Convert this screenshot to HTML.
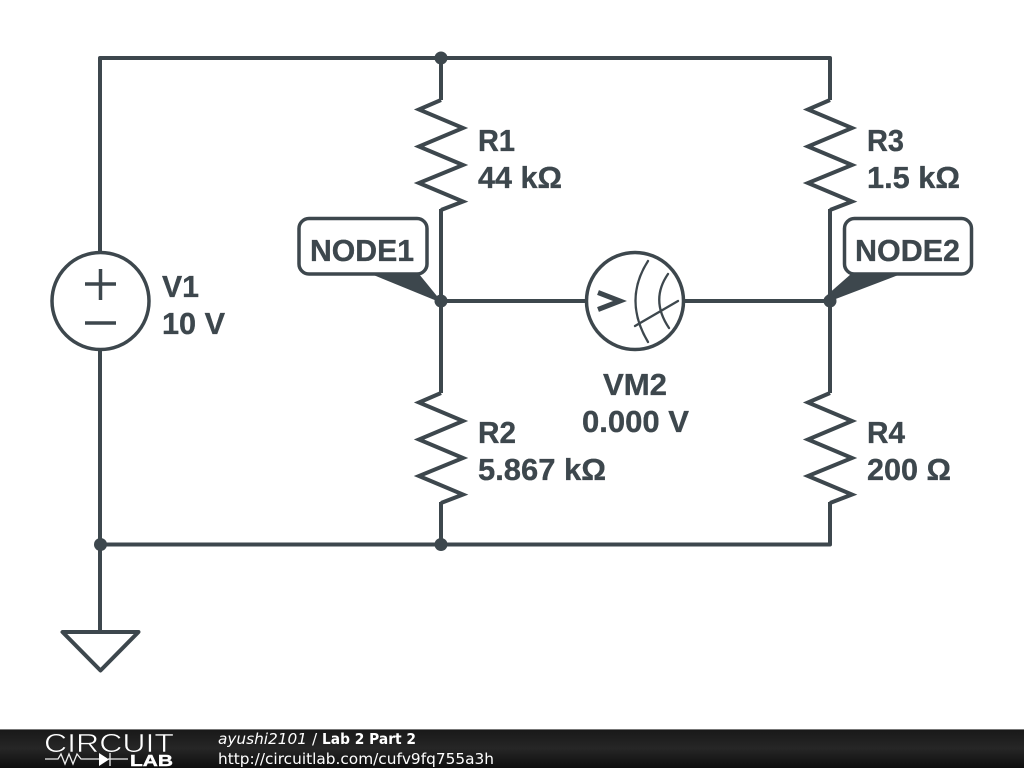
<!DOCTYPE html>
<html><head><meta charset="utf-8"><style>
html,body{margin:0;padding:0;background:#fff;width:1024px;height:768px;overflow:hidden}
svg{display:block}
.l{font:bold 30.5px "Liberation Sans",sans-serif;fill:#3d474d;stroke:#3d474d;stroke-width:.35}
.f{font-family:"DejaVu Sans",sans-serif;font-size:15.3px;fill:#fff}
</style></head><body>
<svg width="1024" height="768" viewBox="0 0 1024 768" xmlns="http://www.w3.org/2000/svg">
<defs><linearGradient id="g" x1="0" y1="0" x2="0" y2="1"><stop offset="0" stop-color="#181818"/><stop offset=".5" stop-color="#262626"/><stop offset="1" stop-color="#0e0e0e"/></linearGradient></defs>
<g fill="none" stroke="#3d474d" stroke-width="4" stroke-linejoin="round" stroke-linecap="butt">
<path d="M100 252V58H830V100M441 58V100"/>
<path d="M100 350V632M100 544.5H830V502M441 502V544.5"/>
<path d="M441 209V393M830 209V393"/>
<path d="M441 301H586M684 301H830"/>
<path d="M441 100L419 109.500L463 128L419 146.500L463 165L419 183L463 201.500L441 210" stroke-linejoin="miter"/>
<path d="M441 393L419 402.500L463 421L419 439.500L463 458L419 476L463 494.500L441 503" stroke-linejoin="miter"/>
<path d="M830 100L808 109.500L852 128L808 146.500L852 165L808 183L852 201.500L830 210" stroke-linejoin="miter"/>
<path d="M830 393L808 402.500L852 421L808 439.500L852 458L808 476L852 494.500L830 503" stroke-linejoin="miter"/>
<circle cx="100.500" cy="301" r="48.500" stroke-width="3.500"/>
<path d="M85 284H116M100.500 269V300M85 323H116" stroke-width="3.500"/>
<circle cx="635" cy="301" r="48.500" stroke-width="3.500"/>
<path d="M598 292.500L620 301L598 309.500" stroke-width="5" stroke-linejoin="miter" stroke-miterlimit="10"/>
<path d="M648 261Q623 300 648 342M668 274Q650 300 669 328M635 326L678 301" stroke-width="2.300" stroke-linecap="round"/>
<path d="M62.500 632H138.500L100.500 670.500Z"/>
<rect x="299" y="218.500" width="128" height="55.500" rx="10" fill="#fff" stroke-width="3.500"/>
<rect x="844.500" y="218.500" width="127" height="55.500" rx="10" fill="#fff" stroke-width="3.500"/>
</g>
<g fill="#3d474d">
<path d="M371 274H419L441 301H437Z"/>
<path d="M851 274H901L833 300L826 296Z"/>
<circle cx="441" cy="58" r="6.500"/><circle cx="441" cy="301" r="6.500"/><circle cx="830" cy="301" r="6.500"/><circle cx="100.500" cy="544.500" r="6.500"/><circle cx="441" cy="544.500" r="6.500"/>
</g>
<text class="l" x="310" y="261" textLength="104" lengthAdjust="spacingAndGlyphs">NODE1</text>
<text class="l" x="855" y="261" textLength="105" lengthAdjust="spacingAndGlyphs">NODE2</text>
<text class="l" x="478" y="151" textLength="37" lengthAdjust="spacingAndGlyphs">R1</text>
<text class="l" x="478" y="188" textLength="84" lengthAdjust="spacingAndGlyphs">44 kΩ</text>
<text class="l" x="867" y="151" textLength="37" lengthAdjust="spacingAndGlyphs">R3</text>
<text class="l" x="867" y="188" textLength="93" lengthAdjust="spacingAndGlyphs">1.5 kΩ</text>
<text class="l" x="478" y="443" textLength="38" lengthAdjust="spacingAndGlyphs">R2</text>
<text class="l" x="478" y="480" textLength="128" lengthAdjust="spacingAndGlyphs">5.867 kΩ</text>
<text class="l" x="867" y="443" textLength="38" lengthAdjust="spacingAndGlyphs">R4</text>
<text class="l" x="867" y="480" textLength="84" lengthAdjust="spacingAndGlyphs">200 Ω</text>
<text class="l" x="162" y="297" textLength="37" lengthAdjust="spacingAndGlyphs">V1</text>
<text class="l" x="162" y="334" textLength="63" lengthAdjust="spacingAndGlyphs">10 V</text>
<text class="l" x="603" y="395" textLength="64" lengthAdjust="spacingAndGlyphs">VM2</text>
<text class="l" x="582" y="432" textLength="107" lengthAdjust="spacingAndGlyphs">0.000 V</text>
<rect x="0" y="729" width="1024" height="39" fill="url(#g)"/>
<rect x="0" y="729" width="1024" height="1" fill="#777"/>
<text x="44" y="752" font-family="Liberation Sans,sans-serif" font-size="26" fill="#fff" stroke="#202020" stroke-width=".6" textLength="130" lengthAdjust="spacingAndGlyphs">CIRCUIT</text>
<text x="130" y="766" font-family="Liberation Sans,sans-serif" font-weight="bold" font-size="15.500" fill="#fff" stroke="#fff" stroke-width=".4" textLength="43" lengthAdjust="spacingAndGlyphs">LAB</text>
<path d="M45 759H58L61 754L65 764L69 754L73 764L77 754L81 759H99M128 759H108M110 753V766" stroke="#eee" stroke-width="1.300" fill="none"/>
<path d="M99 753V766L109 759.500Z" fill="#fff"/>
<text class="f" x="218" y="744" font-style="italic" textLength="89" lengthAdjust="spacingAndGlyphs">ayushi2101</text>
<text class="f" x="312" y="744">/</text>
<text class="f" x="322" y="744" font-weight="bold" textLength="94" lengthAdjust="spacingAndGlyphs">Lab 2 Part 2</text>
<text class="f" x="218" y="764" textLength="276" lengthAdjust="spacingAndGlyphs">http://circuitlab.com/cufv9fq755a3h</text>
</svg>
</body></html>
